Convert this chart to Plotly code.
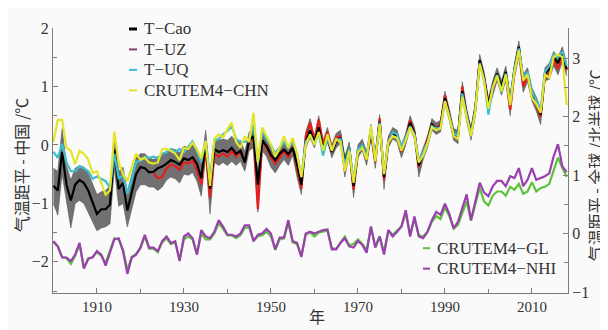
import plotly.graph_objects as go

years = list(range(1900, 2019))
years_uz = list(range(1923, 2019))

t_cao = [-0.70, -0.78, -0.12, -0.68, -0.95, -0.68, -0.60, -0.65, -0.78, -0.97,
         -1.18, -1.10, -1.10, -1.02, -0.08, -0.75, -0.65, -1.12, -0.80, -0.50,
         -0.38, -0.40, -0.47, -0.46, -0.40, -0.37, -0.32, -0.26, -0.29, -0.34,
         -0.23, -0.26, -0.21, -0.32, -0.57, 0.05, -0.75, -0.07, -0.12, -0.09,
         -0.12, -0.05, -0.15, -0.10, -0.30, 0.08, 0.15, -0.68, 0.08, -0.02,
         -0.17, -0.26, -0.15, -0.08, -0.16, -0.05, -0.32, -0.68, 0.05, 0.25,
         0.05, 0.30, -0.06, 0.15, -0.12, 0.05, 0.12, -0.30, -0.05, -0.70,
         -0.10, 0.00, -0.22, 0.25, -0.25, 0.40, -0.55, 0.05, 0.20, 0.15,
         -0.10, 0.10, 0.38, 0.20, -0.35, -0.15, 0.05, 0.35, 0.28, 0.32,
         0.80, 0.52, 0.18, 0.15, 0.92, 0.52, 0.20, 0.62, 1.45, 1.15,
         0.68, 1.00, 1.22, 1.00, 1.25, 0.72, 1.30, 1.68, 1.10, 1.22,
         0.88, 0.72, 0.52, 1.22, 1.30, 1.50, 1.40, 1.58, 1.30]

t_uz = [-0.48, -0.57, -0.55, -0.40, -0.34, -0.36, -0.43,
        -0.30, -0.32, -0.27, -0.43, -0.68, -0.05, -0.90, -0.15, -0.20, -0.15,
        -0.20, -0.10, -0.20, -0.10, -0.28, 0.05, 0.12, -1.10, 0.05, -0.05,
        -0.22, -0.32, -0.20, -0.10, -0.22, -0.02, -0.40, -0.75, 0.15, 0.38,
        0.08, 0.43, 0.00, 0.22, -0.08, 0.12, 0.15, -0.45, -0.05, -0.76,
        -0.12, 0.02, -0.25, 0.22, -0.30, 0.46, -0.60, 0.08, 0.22, 0.15,
        -0.12, 0.12, 0.42, 0.22, -0.38, -0.15, 0.08, 0.35, 0.30, 0.35,
        0.85, 0.52, 0.18, 0.12, 1.00, 0.50, 0.18, 0.60, 1.45, 1.15,
        0.70, 0.95, 1.20, 0.95, 1.20, 0.60, 1.25, 1.62, 1.00, 1.18,
        0.85, 0.68, 0.48, 1.20, 1.22, 1.45, 1.30, 1.52, 1.28]

t_uq = [-0.12, -0.22, 0.02, -0.30, -0.45, -0.45, -0.37, -0.40, -0.45, -0.58,
        -0.54, -0.58, -0.62, -0.73, -0.15, -0.57, -0.52, -0.84, -0.55, -0.29,
        -0.27, -0.20, -0.22, -0.20, -0.23, -0.15, -0.12, -0.07, -0.12, -0.07,
        -0.12, -0.03, 0.06, -0.10, -0.29, 0.07, -0.59, 0.07, 0.10, 0.18,
        0.24, 0.32, 0.10, 0.05, 0.05, 0.10, 0.35, -0.30, 0.25, 0.10,
        0.00, -0.15, -0.05, 0.05, -0.05, 0.05, -0.15, -0.55, 0.05, 0.15,
        0.02, 0.20, -0.18, 0.12, -0.08, 0.08, 0.10, -0.35, -0.05, -0.62,
        -0.08, 0.00, -0.20, 0.28, -0.22, 0.38, -0.50, 0.05, 0.22, 0.18,
        -0.05, 0.12, 0.32, 0.18, -0.28, -0.12, 0.05, 0.32, 0.28, 0.30,
        0.75, 0.50, 0.20, 0.15, 0.88, 0.50, 0.18, 0.60, 1.40, 1.12,
        0.52, 0.98, 1.20, 0.90, 1.22, 0.72, 1.30, 1.65, 1.15, 1.25,
        0.92, 0.75, 0.60, 1.25, 1.35, 1.55, 1.50, 1.60, 1.35]

crutem_chn = [0.05, 0.43, 0.43, -0.05, -0.10, -0.33, -0.10, -0.15, -0.25, -0.48,
              -0.45, -0.65, -0.85, -0.78, 0.23, -0.30, -0.50, -0.62, -0.40, -0.15,
              -0.25, -0.22, -0.30, -0.32, -0.30, -0.07, -0.07, -0.10, -0.15, -0.26,
              -0.05, -0.07, 0.04, -0.07, -0.23, 0.07, -0.70, 0.10, 0.18, 0.13,
              0.27, 0.38, 0.05, -0.05, 0.15, 0.05, 0.55, -0.30, 0.30, 0.15,
              0.00, -0.20, -0.05, 0.15, -0.05, 0.12, -0.15, -0.55, 0.00, 0.18,
              0.00, 0.22, -0.10, 0.18, -0.10, 0.10, 0.05, -0.45, -0.10, -0.65,
              -0.12, -0.05, -0.25, 0.32, -0.28, 0.35, -0.50, 0.05, 0.15, 0.12,
              -0.10, 0.08, 0.30, 0.15, -0.30, -0.18, 0.02, 0.30, 0.25, 0.28,
              0.75, 0.48, 0.15, 0.10, 0.82, 0.48, 0.15, 0.58, 1.38, 1.10,
              0.62, 0.98, 1.18, 0.92, 1.20, 0.68, 1.25, 1.62, 1.10, 1.20,
              0.80, 0.70, 0.55, 1.20, 1.15, 1.50, 1.55, 1.50, 0.68]

cao_band_hi = [-0.40, -0.45, 0.28, -0.35, -0.60, -0.40, -0.35, -0.38, -0.48, -0.65,
               -0.85, -0.80, -0.78, -0.70, 0.15, -0.45, -0.38, -0.80, -0.50, -0.22,
               -0.15, -0.15, -0.22, -0.25, -0.20, -0.17, -0.12, -0.06, -0.08, -0.13,
               -0.02, -0.05, 0.00, -0.12, -0.35, 0.25, -0.55, 0.12, 0.08, 0.10,
               0.08, 0.15, 0.05, 0.08, -0.12, 0.22, 0.30, -0.50, 0.22, 0.12,
               -0.02, -0.12, -0.02, 0.05, -0.02, 0.10, -0.18, -0.58, 0.22, 0.45,
               0.15, 0.50, 0.08, 0.30, 0.00, 0.20, 0.25, -0.20, 0.05, -0.60,
               0.00, 0.10, -0.12, 0.35, -0.15, 0.52, -0.45, 0.15, 0.30, 0.25,
               0.00, 0.20, 0.50, 0.30, -0.25, -0.05, 0.15, 0.45, 0.38, 0.42,
               0.92, 0.62, 0.28, 0.25, 1.08, 0.62, 0.30, 0.72, 1.55, 1.25,
               0.80, 1.10, 1.32, 1.10, 1.35, 0.82, 1.40, 1.78, 1.20, 1.32,
               0.98, 0.82, 0.62, 1.32, 1.40, 1.60, 1.50, 1.68, 1.40]

cao_band_lo = [-1.00, -1.20, -0.50, -1.00, -1.42, -1.00, -0.95, -1.00, -1.15, -1.30,
               -1.47, -1.42, -1.40, -1.35, -0.40, -1.05, -1.00, -1.40, -1.10, -0.80,
               -0.68, -0.68, -0.72, -0.72, -0.78, -0.72, -0.60, -0.55, -0.58, -0.65,
               -0.50, -0.52, -0.47, -0.62, -0.88, -0.20, -1.18, -0.30, -0.35, -0.30,
               -0.35, -0.28, -0.35, -0.28, -0.45, -0.10, -0.05, -1.15, -0.10, -0.20,
               -0.38, -0.48, -0.35, -0.25, -0.35, -0.18, -0.55, -0.85, -0.05, 0.12,
               -0.05, 0.20, -0.15, 0.05, -0.22, -0.05, 0.02, -0.55, -0.15, -0.90,
               -0.22, -0.10, -0.35, 0.12, -0.40, 0.30, -0.76, -0.05, 0.10, 0.05,
               -0.22, 0.00, 0.28, 0.10, -0.55, -0.25, -0.05, 0.25, 0.18, 0.22,
               0.70, 0.42, 0.08, 0.02, 0.82, 0.40, 0.08, 0.50, 1.35, 1.05,
               0.58, 0.85, 1.10, 0.85, 1.10, 0.50, 1.15, 1.52, 0.90, 1.08,
               0.75, 0.58, 0.35, 1.10, 1.12, 1.35, 1.20, 1.42, 1.18]

crutem_nhi = [-0.13, -0.22, -0.41, -0.41, -0.47, -0.36, -0.16, -0.60, -0.43, -0.41,
              -0.30, -0.36, -0.55, -0.33, -0.10, -0.08, -0.30, -0.69, -0.41, -0.36,
              -0.24, -0.02, -0.24, -0.24, -0.30, -0.13, -0.05, -0.16, -0.13, -0.47,
              -0.05, 0.00, -0.08, -0.36, 0.06, -0.05, -0.08, 0.03, 0.23, 0.12,
              -0.02, -0.02, -0.05, 0.00, 0.14, 0.14, -0.13, -0.02, 0.00, 0.08,
              0.00, -0.27, -0.07, -0.07, 0.23, -0.13, -0.16, -0.40, 0.00, 0.03,
              0.00, 0.03, 0.06, 0.07, -0.27, -0.27, -0.16, -0.08, -0.22, -0.24,
              -0.13, -0.19, -0.33, 0.12, -0.24, -0.05, -0.36, 0.06, -0.05, 0.03,
              0.12, 0.40, -0.05, 0.29, -0.05, -0.08, 0.03, 0.23, 0.37, 0.32,
              0.51, 0.34, 0.09, 0.20, 0.42, 0.67, 0.23, 0.56, 0.87, 0.70,
              0.64, 0.81, 0.90, 0.90, 0.81, 0.98, 0.95, 1.12, 0.81, 0.92,
              1.12, 0.92, 0.95, 0.98, 1.03, 1.32, 1.53, 1.15, 1.05]

crutem_gl = [-0.15, -0.22, -0.40, -0.42, -0.52, -0.38, -0.18, -0.58, -0.43, -0.40,
             -0.32, -0.38, -0.50, -0.30, -0.08, -0.10, -0.28, -0.62, -0.40, -0.35,
             -0.25, -0.05, -0.26, -0.26, -0.32, -0.15, -0.08, -0.18, -0.15, -0.45,
             -0.10, -0.05, -0.10, -0.35, 0.00, -0.10, -0.10, 0.00, 0.18, 0.08,
             -0.03, -0.03, -0.08, -0.03, 0.10, 0.10, -0.12, -0.05, -0.03, 0.03,
             -0.05, -0.28, -0.10, -0.08, 0.18, -0.15, -0.18, -0.38, -0.02, 0.02,
             -0.05, 0.02, 0.04, 0.05, -0.25, -0.26, -0.15, -0.05, -0.20, -0.18,
             -0.10, -0.18, -0.28, 0.10, -0.22, -0.05, -0.32, 0.05, -0.02, 0.05,
             0.12, 0.35, -0.02, 0.25, -0.03, -0.05, 0.03, 0.20, 0.30, 0.25,
             0.45, 0.30, 0.08, 0.15, 0.35, 0.55, 0.22, 0.50, 0.78, 0.55,
             0.48, 0.65, 0.72, 0.72, 0.65, 0.80, 0.75, 0.85, 0.68, 0.72,
             0.88, 0.72, 0.78, 0.80, 0.85, 1.08, 1.30, 1.12, 0.97]

left_ticks = [-2, -1, 0, 1, 2]
right_ticks = [-1, 0, 1, 2, 3]
x_ticks = [1910, 1930, 1950, 1970, 1990, 2010]

AX = "#857a7a"
TXT = "#333333"
SERIF = "Liberation Serif, Times New Roman, serif"
CJK = "Noto Sans CJK SC, sans-serif"

# page body has an 8px margin; the figure is sized so it fits the 608x330 window
OFF = 8
W, H = 600, 322
PL, PT, PW, PH = 53 - OFF, 21 - OFF, 515, 272

fig = go.Figure()
fig.add_trace(go.Scatter(x=years, y=cao_band_lo, mode="lines", line=dict(width=0.6, color="#555555"),
                         showlegend=False, hoverinfo="skip"))
fig.add_trace(go.Scatter(x=years, y=cao_band_hi, mode="lines", line=dict(width=0.6, color="#555555"),
                         fill="tonexty", fillcolor="rgba(105,105,105,0.95)", showlegend=False, hoverinfo="skip"))
fig.add_trace(go.Scatter(x=years_uz, y=t_uz, mode="lines", name="T−UZ",
                         line=dict(color="#e3201b", width=2.2), showlegend=False))
fig.add_trace(go.Scatter(x=years, y=t_cao, mode="lines", name="T−Cao",
                         line=dict(color="#000000", width=2.2), showlegend=False))
fig.add_trace(go.Scatter(x=years, y=t_uq, mode="lines", name="T−UQ",
                         line=dict(color="#3dbdd0", width=2.2), showlegend=False))
fig.add_trace(go.Scatter(x=years, y=crutem_chn, mode="lines", name="CRUTEM4−CHN",
                         line=dict(color="#e4e42a", width=2.2), showlegend=False))
fig.add_trace(go.Scatter(x=years, y=crutem_gl, mode="lines", name="CRUTEM4−GL", yaxis="y2",
                         line=dict(color="#5cc23c", width=2.2), showlegend=False))
fig.add_trace(go.Scatter(x=years, y=crutem_nhi, mode="lines", name="CRUTEM4−NHI", yaxis="y2",
                         line=dict(color="#9a3fae", width=2.2), showlegend=False))

axis_common = dict(showline=True, linecolor=AX, linewidth=1.2, ticks="inside", ticklen=5,
                   tickcolor=AX, tickwidth=1, showgrid=False, zeroline=False,
                   tickfont=dict(family=SERIF, size=16, color=TXT))

fig.update_layout(
    width=W, height=H,
    margin=dict(l=PL, r=W - PL - PW, t=PT, b=H - PT - PH, pad=0),
    paper_bgcolor="#fafafa", plot_bgcolor="#fafafa",
    showlegend=False,
    xaxis=dict(range=[1899.9, 2018.3], tickvals=x_ticks,
               minor=dict(dtick=10, tick0=1900, ticks="inside", ticklen=4, tickcolor=AX),
               **{**axis_common, "tickfont": dict(family=SERIF, size=15, color=TXT)}),
    yaxis=dict(range=[-2.533, 2.0], tickvals=left_ticks,
               minor=dict(dtick=0.5, tick0=0, ticks="inside", ticklen=4, tickcolor=AX),
               **axis_common),
    yaxis2=dict(range=[-1.017, 3.517], tickvals=right_ticks, overlaying="y", side="right",
                minor=dict(dtick=0.5, tick0=0, ticks="inside", ticklen=4, tickcolor=AX),
                **axis_common),
)

def px2x(p):
    return (p - OFF - PL) / float(PW)

def px2y(p):
    return (PT + PH - (p - OFF)) / float(PH)

annotations = [
    dict(text="气温距平 - 中国 /℃", x=px2x(21), y=px2y(162), textangle=-90,
         xanchor="center", yanchor="middle", font=dict(family=CJK, size=16, color=TXT)),
    dict(text="气温距平 - 全球 /北半球 /℃", x=px2x(595), y=px2y(162), textangle=-90,
         xanchor="center", yanchor="middle", font=dict(family=CJK, size=16, color=TXT)),
    dict(text="年", x=px2x(317), y=px2y(317), xanchor="center", yanchor="middle",
         font=dict(family=CJK, size=16, color=TXT)),
]
shapes = []

legend1 = [("T−Cao", "#000000", 3), ("T−UZ", "#8a3a6e", 2), ("T−UQ", "#3dbdd0", 2),
           ("CRUTEM4−CHN", "#e4e42a", 2)]
rows1 = [22, 43, 64, 85]
for (lab, col, w), py in zip(legend1, rows1):
    shapes.append(dict(type="line", xref="paper", yref="paper", x0=px2x(129), x1=px2x(137),
                       y0=px2y(py), y1=px2y(py), line=dict(color=col, width=w)))
    annotations.append(dict(text=lab, x=px2x(142), y=px2y(py), xanchor="left", yanchor="middle",
                            font=dict(family=SERIF, size=17, color=TXT)))

legend2 = [("CRUTEM4−GL", "#5cc23c"), ("CRUTEM4−NHI", "#9a3fae")]
rows2 = [247, 268]
for (lab, col), py in zip(legend2, rows2):
    shapes.append(dict(type="line", xref="paper", yref="paper", x0=px2x(423), x1=px2x(430),
                       y0=px2y(py), y1=px2y(py), line=dict(color=col, width=2)))
    annotations.append(dict(text=lab, x=px2x(435), y=px2y(py), xanchor="left", yanchor="middle",
                            font=dict(family=SERIF, size=17, color=TXT)))

for a in annotations:
    a.setdefault("xref", "paper")
    a.setdefault("yref", "paper")
    a.setdefault("showarrow", False)

fig.update_layout(annotations=annotations, shapes=shapes)
fig.write_html("out.html")
